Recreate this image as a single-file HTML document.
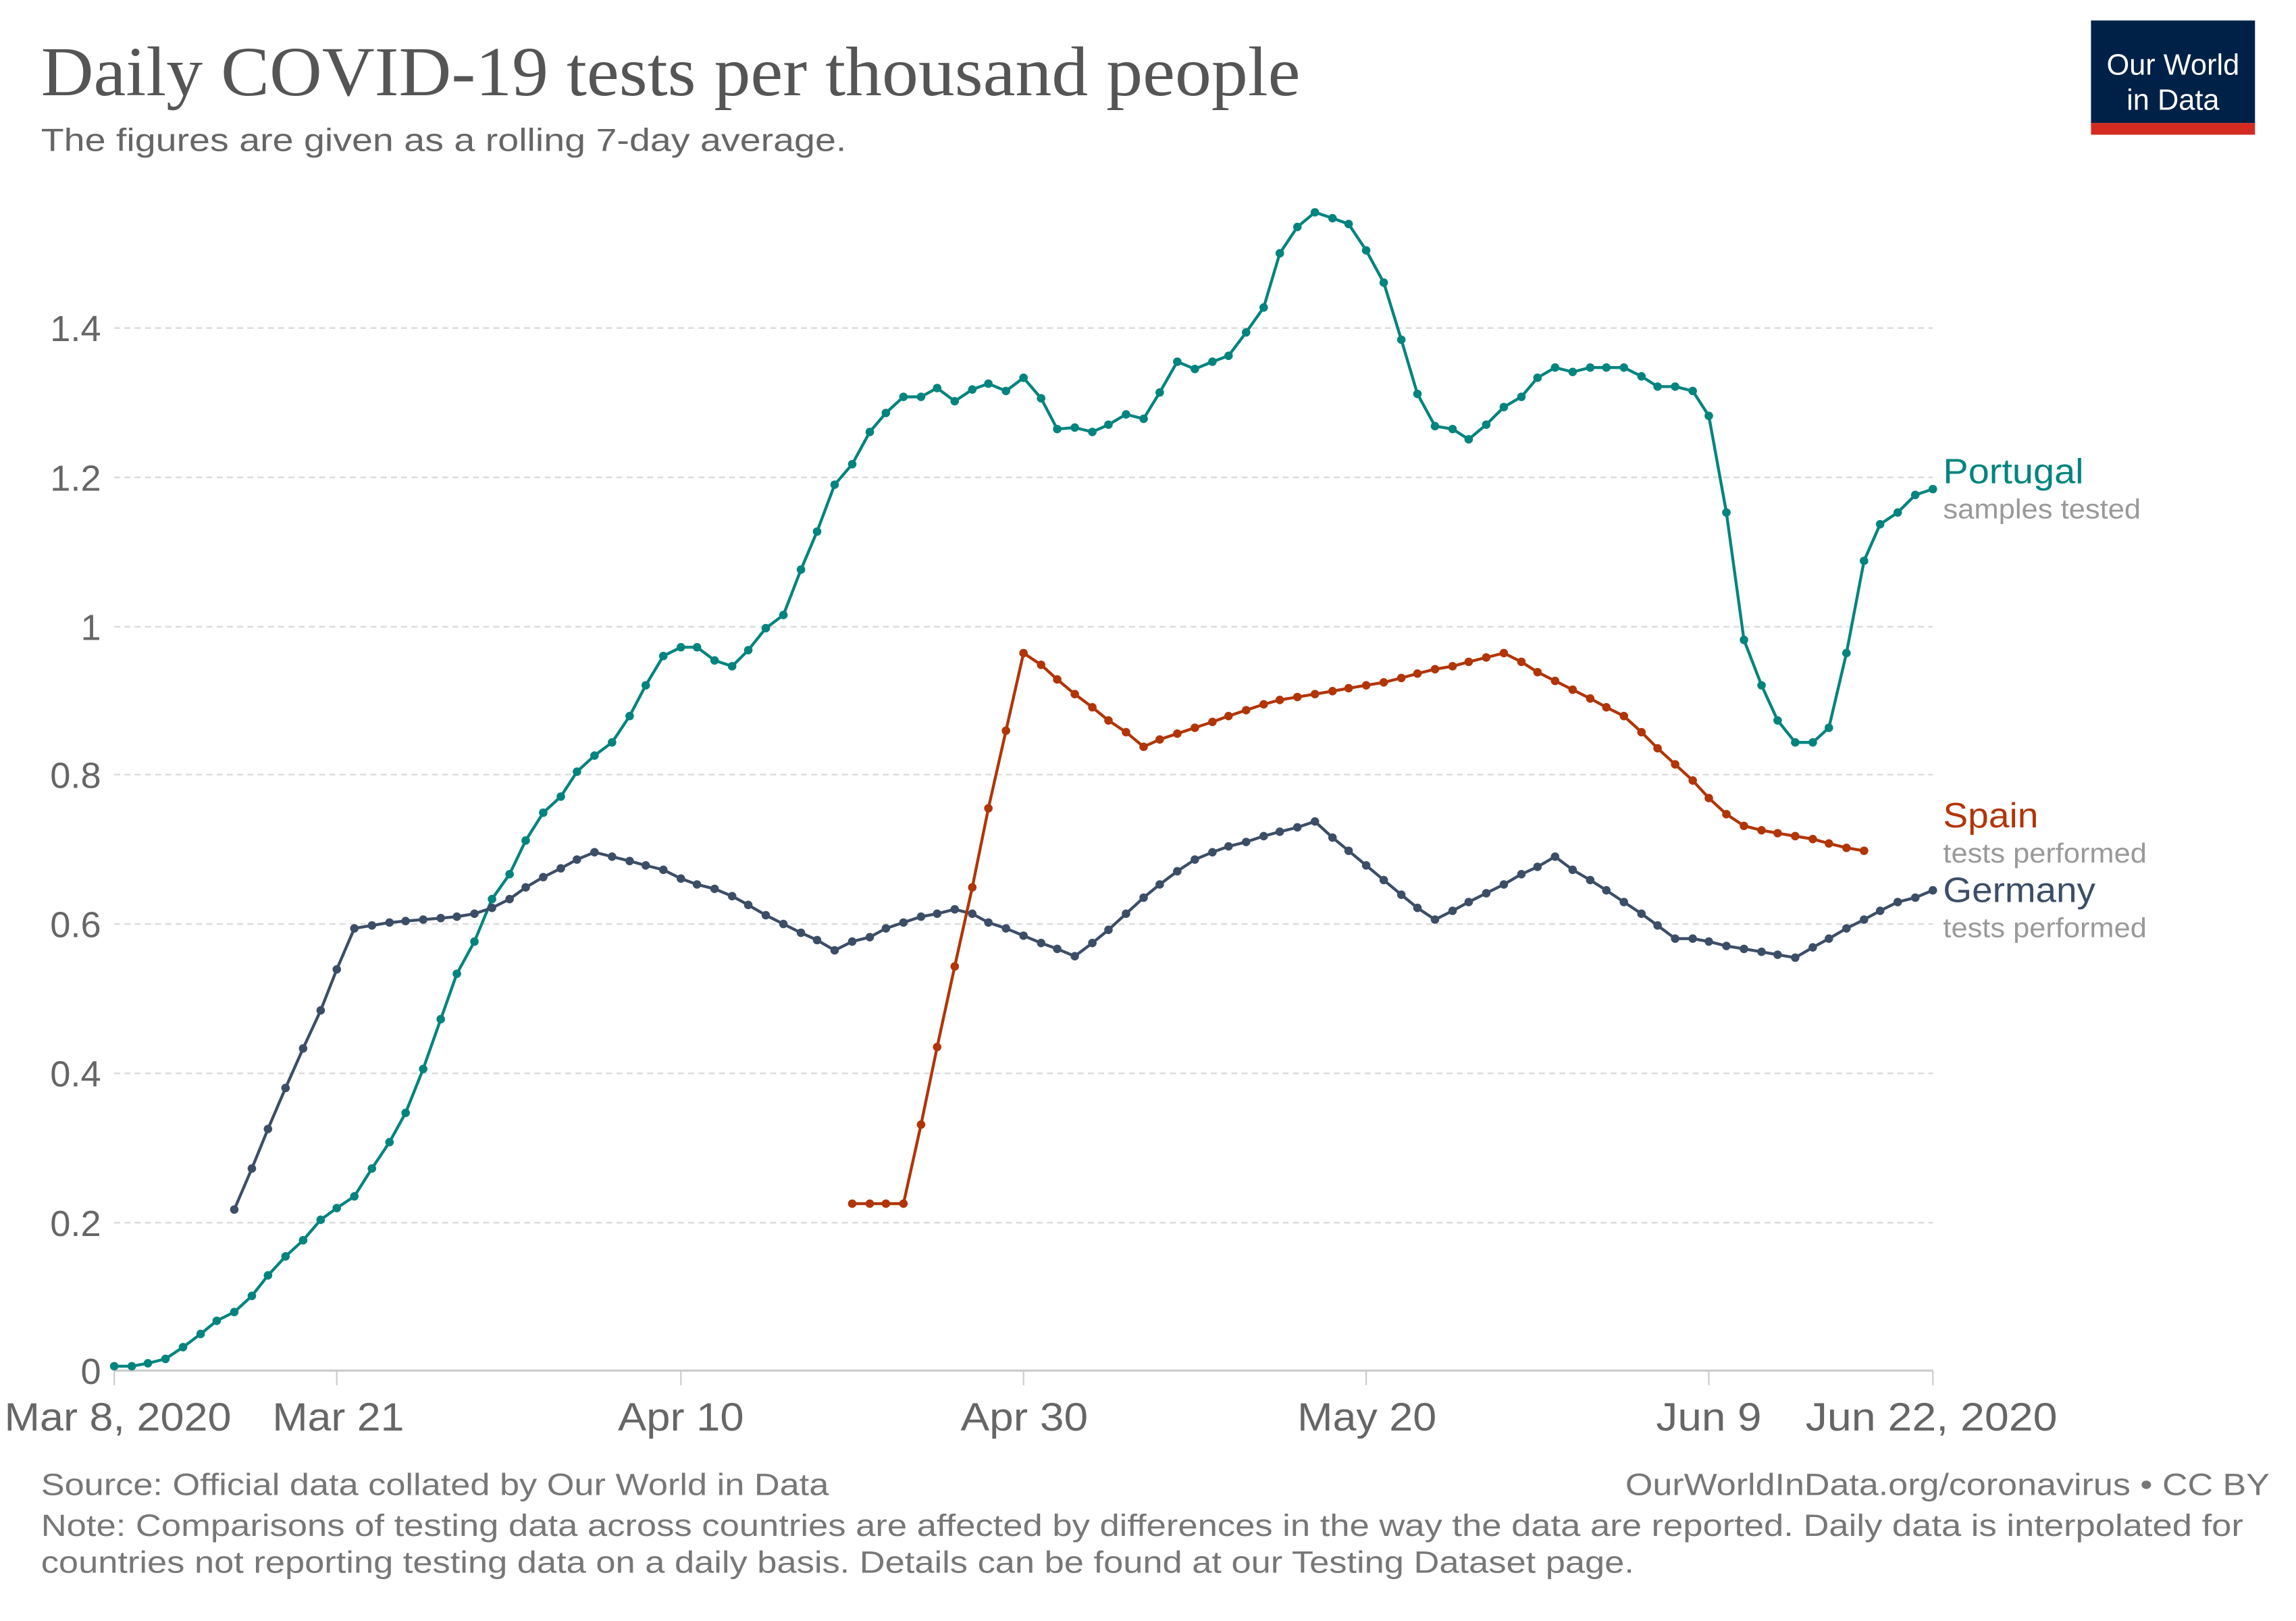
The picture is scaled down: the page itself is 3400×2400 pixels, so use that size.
<!DOCTYPE html>
<html><head><meta charset="utf-8"><style>
html,body{margin:0;padding:0;background:#fff}
svg{display:block}
text{font-family:"Liberation Sans",sans-serif}
</style></head><body>
<svg width="3400" height="2400" viewBox="0 0 1568 1107" preserveAspectRatio="none" xmlns="http://www.w3.org/2000/svg">
<defs>
<marker id="mp" markerUnits="userSpaceOnUse" markerWidth="8" markerHeight="8" refX="4" refY="4"><circle cx="4" cy="4" r="2.9" fill="#00847e"/></marker>
<marker id="mg" markerUnits="userSpaceOnUse" markerWidth="8" markerHeight="8" refX="4" refY="4"><circle cx="4" cy="4" r="2.9" fill="#3c4e66"/></marker>
<marker id="ms" markerUnits="userSpaceOnUse" markerWidth="8" markerHeight="8" refX="4" refY="4"><circle cx="4" cy="4" r="2.9" fill="#b13507"/></marker>
</defs>
<rect width="1568" height="1107" fill="#fff"/>
<text x="28" y="65" style="font-family:'Liberation Serif',serif" font-size="48" fill="#555" textLength="860" lengthAdjust="spacingAndGlyphs">Daily COVID-19 tests per thousand people</text>
<text x="28" y="103" font-size="22" fill="#666" textLength="550" lengthAdjust="spacingAndGlyphs">The figures are given as a rolling 7-day average.</text>
<rect x="1428" y="14" width="112" height="70" fill="#002147"/>
<rect x="1428" y="84" width="112" height="8" fill="#d42b21"/>
<text x="1484" y="51" font-size="20" fill="#fff" text-anchor="middle">Our World</text>
<text x="1484" y="75" font-size="20" fill="#fff" text-anchor="middle">in Data</text>
<g stroke="#ddd" stroke-width="1.2" stroke-dasharray="4,3">
<line x1="78" x2="1320" y1="224" y2="224"/><line x1="78" x2="1320" y1="326" y2="326"/>
<line x1="78" x2="1320" y1="428" y2="428"/><line x1="78" x2="1320" y1="529" y2="529"/>
<line x1="78" x2="1320" y1="631" y2="631"/><line x1="78" x2="1320" y1="733" y2="733"/>
<line x1="78" x2="1320" y1="835" y2="835"/>
</g>
<line x1="78" x2="1320" y1="936" y2="936" stroke="#ccc" stroke-width="1.5"/>
<g stroke="#ccc" stroke-width="1"><line x1="78" x2="78" y1="936" y2="946"/><line x1="230" x2="230" y1="936" y2="946"/><line x1="465" x2="465" y1="936" y2="946"/><line x1="699" x2="699" y1="936" y2="946"/><line x1="933" x2="933" y1="936" y2="946"/><line x1="1167" x2="1167" y1="936" y2="946"/><line x1="1320" x2="1320" y1="936" y2="946"/></g>
<g font-size="25" fill="#666" text-anchor="end">
<text x="69" y="233">1.4</text><text x="69" y="335">1.2</text><text x="69" y="437">1</text><text x="69" y="538">0.8</text><text x="69" y="640">0.6</text><text x="69" y="742">0.4</text><text x="69" y="844">0.2</text><text x="69" y="945">0</text>
</g>
<g font-size="27" fill="#666" lengthAdjust="spacingAndGlyphs">
<text x="3" y="977" textLength="155" lengthAdjust="spacingAndGlyphs">Mar 8, 2020</text>
<text x="186" y="977" textLength="90" lengthAdjust="spacingAndGlyphs">Mar 21</text>
<text x="422" y="977" textLength="86" lengthAdjust="spacingAndGlyphs">Apr 10</text>
<text x="656" y="977" textLength="87" lengthAdjust="spacingAndGlyphs">Apr 30</text>
<text x="886" y="977" textLength="95" lengthAdjust="spacingAndGlyphs">May 20</text>
<text x="1131" y="977" textLength="72" lengthAdjust="spacingAndGlyphs">Jun 9</text>
<text x="1233" y="977" textLength="172" lengthAdjust="spacingAndGlyphs">Jun 22, 2020</text>
</g>
<g fill="none" stroke-width="2" stroke-linejoin="round">
<polyline stroke="#00847e" marker-start="url(#mp)" marker-mid="url(#mp)" marker-end="url(#mp)" points="78,933 90,933 101,931 113,928 125,920 137,911 148,902 160,896 172,885 183,871 195,858 207,847 219,833 230,825 242,817 254,798 266,780 277,760 289,730 301,696 312,665 324,643 336,614 348,597 359,574 371,555 383,544 394,527 406,516 418,507 430,489 441,468 453,448 465,442 476,442 488,451 500,455 511,444 523,429 535,420 547,389 558,363 570,331 582,317 594,295 605,282 617,271 629,271 640,265 652,274 664,266 675,262 687,267 699,258 711,272 722,293 734,292 746,295 757,290 769,283 781,286 792,268 804,247 816,252 828,247 839,243 851,227 863,210 874,173 886,155 898,145 910,149 921,153 933,171 945,193 957,232 968,269 980,291 992,293 1003,300 1015,290 1027,278 1039,271 1050,258 1062,251 1074,254 1086,251 1097,251 1109,251 1121,257 1132,264 1144,264 1156,267 1167,284 1179,350 1191,437 1203,468 1214,492 1226,507 1238,507 1249,497 1261,446 1273,383 1284,358 1296,350 1308,338 1320,334"/>
<polyline stroke="#3c4e66" marker-start="url(#mg)" marker-mid="url(#mg)" marker-end="url(#mg)" points="160,826 172,798 183,771 195,743 207,716 219,690 230,662 242,634 254,632 266,630 277,629 289,628 301,627 312,626 324,624 336,620 348,614 359,606 371,599 383,593 394,587 406,582 418,585 430,588 441,591 453,594 465,600 476,604 488,607 500,612 511,618 523,625 535,631 547,637 558,642 570,649 582,643 594,640 605,634 617,630 629,626 640,624 652,621 664,624 675,630 687,634 699,639 711,644 722,648 734,653 746,644 757,635 769,624 781,613 792,604 804,595 816,587 828,582 839,578 851,575 863,571 874,568 886,565 898,561 910,572 921,581 933,591 945,601 957,611 968,620 980,628 992,622 1003,616 1015,610 1027,604 1039,597 1050,592 1062,585 1074,594 1086,601 1097,608 1109,616 1121,624 1132,632 1144,641 1156,641 1167,643 1179,646 1191,648 1203,650 1214,652 1226,654 1238,647 1249,641 1261,634 1273,628 1284,622 1296,616 1308,613 1320,608"/>
<polyline stroke="#b13507" marker-start="url(#ms)" marker-mid="url(#ms)" marker-end="url(#ms)" points="582,822 594,822 605,822 617,822 629,768 640,715 652,660 664,606 675,552 687,499 699,446 711,454 722,464 734,474 746,483 757,492 769,500 781,510 792,505 804,501 816,497 828,493 839,489 851,485 863,481 874,478 886,476 898,474 910,472 921,470 933,468 945,466 957,463 968,460 980,457 992,455 1003,452 1015,449 1027,446 1039,452 1050,459 1062,465 1074,471 1086,477 1097,483 1109,489 1121,500 1132,511 1144,522 1156,533 1167,545 1179,556 1191,564 1203,567 1214,569 1226,571 1238,573 1249,576 1261,579 1273,581"/>
</g>
<text x="1327" y="330" font-size="24" fill="#00847e" textLength="96" lengthAdjust="spacingAndGlyphs">Portugal</text>
<text x="1327" y="354" font-size="19" fill="#999" textLength="135" lengthAdjust="spacingAndGlyphs">samples tested</text>
<text x="1327" y="565" font-size="24" fill="#b13507" textLength="65" lengthAdjust="spacingAndGlyphs">Spain</text>
<text x="1327" y="589" font-size="19" fill="#999" textLength="139" lengthAdjust="spacingAndGlyphs">tests performed</text>
<text x="1327" y="616" font-size="24" fill="#3c4e66" textLength="104" lengthAdjust="spacingAndGlyphs">Germany</text>
<text x="1327" y="640" font-size="19" fill="#999" textLength="139" lengthAdjust="spacingAndGlyphs">tests performed</text>
<g font-size="21" fill="#777">
<text x="28" y="1021" textLength="538" lengthAdjust="spacingAndGlyphs">Source: Official data collated by Our World in Data</text>
<text x="1110" y="1021" textLength="440" lengthAdjust="spacingAndGlyphs">OurWorldInData.org/coronavirus • CC BY</text>
<text x="28" y="1049" textLength="1504" lengthAdjust="spacingAndGlyphs">Note: Comparisons of testing data across countries are affected by differences in the way the data are reported. Daily data is interpolated for</text>
<text x="28" y="1074" textLength="1088" lengthAdjust="spacingAndGlyphs">countries not reporting testing data on a daily basis. Details can be found at our Testing Dataset page.</text>
</g>
</svg>
</body></html>
